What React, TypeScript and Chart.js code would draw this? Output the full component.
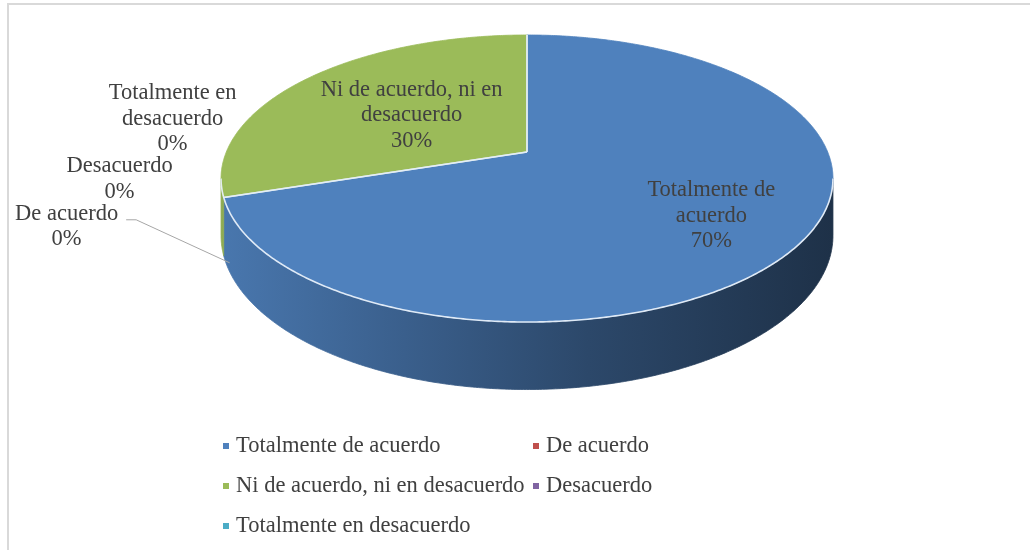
import React, { useEffect, useRef } from "react";
import { Chart, registerables } from "chart.js";

Chart.register(...registerables);

// ---------- data ----------
const categories = [
  "Totalmente de acuerdo",
  "De acuerdo",
  "Ni de acuerdo, ni en desacuerdo",
  "Desacuerdo",
  "Totalmente en desacuerdo",
];
const values = [70, 0, 30, 0, 0];
const colors = ["#4F81BD", "#C0504D", "#9BBB59", "#8064A2", "#4BACC6"];

// ---------- style ----------
const FONT_FAMILY = '"Liberation Serif", "Times New Roman", serif';
const FONT_SIZE = 22.5;
const TEXT_COLOR = "#404040";
const LINE_H = 25.5;
const WRAP_W = 192;
const BASE_OFF = 8;

// perspective view of the pie (screen px)
const VIEW = { rx: 300.7, tilt: 0.461, persp: -0.1847, depth: 0.183 };

const LEGEND = { x: 223, y: 452, colW: 310, rowH: 40, box: 6, gap: 13, cols: 2 };

type Pt = { x: number; y: number };

function project(cx: number, cy: number, theta: number, rho: number, h: number): Pt {
  const u = rho * Math.cos(theta);
  const v = rho * Math.sin(theta);
  const w = 1 + VIEW.persp * v;
  const A = VIEW.rx;
  return { x: cx + (A * u) / w, y: cy + (A * VIEW.tilt * v + A * VIEW.depth * h) / w };
}

function rimPoints(cx: number, cy: number, a: number, b: number, rho: number, h: number): Pt[] {
  const n = Math.max(2, Math.ceil(Math.abs(b - a) / (Math.PI / 360)) + 1);
  const pts: Pt[] = [];
  for (let i = 0; i < n; i++) {
    const t = a + ((b - a) * i) / (n - 1);
    pts.push(project(cx, cy, t, rho, h));
  }
  return pts;
}

function shade(hex: string, f: number): string {
  const n = parseInt(hex.slice(1), 16);
  const r = Math.min(255, Math.round(((n >> 16) & 255) * f));
  const g = Math.min(255, Math.round(((n >> 8) & 255) * f));
  const b = Math.min(255, Math.round((n & 255) * f));
  return `rgb(${r},${g},${b})`;
}

function wrapText(ctx: CanvasRenderingContext2D, text: string, maxW: number): string[] {
  const words = text.split(" ");
  const lines: string[] = [];
  let cur = "";
  for (const w of words) {
    const test = cur ? cur + " " + w : w;
    if (cur && ctx.measureText(test).width > maxW) {
      lines.push(cur);
      cur = w;
    } else cur = test;
  }
  if (cur) lines.push(cur);
  return lines;
}

function pathOf(ctx: CanvasRenderingContext2D, pts: Pt[], start = true) {
  pts.forEach((p, k) => {
    if (k === 0 && start) ctx.moveTo(p.x, p.y);
    else ctx.lineTo(p.x, p.y);
  });
}

const pie3dPlugin = {
  id: "pie3d",
  beforeDatasetsDraw(chart: any) {
    const ctx: CanvasRenderingContext2D = chart.ctx;
    const meta = chart.getDatasetMeta(0);
    const arcs = meta.data as any[];
    if (!arcs.length) return false;
    const cx = arcs[0].x;
    const cy = arcs[0].y;
    const ds = chart.data.datasets[0];
    const data = ds.data as number[];
    const bgs = ds.backgroundColor as string[];
    const labels = chart.data.labels as string[];
    const total = data.reduce((s, v) => s + v, 0);
    const s1 = Math.asin(-VIEW.persp);
    const s2 = Math.PI - s1;
    const xl = project(cx, cy, s2, 1, 0).x;
    const xr = project(cx, cy, s1, 1, 0).x;

    ctx.save();
    // ---- side walls ----
    arcs.forEach((arc, i) => {
      if (arc.endAngle - arc.startAngle <= 0) return;
      for (const off of [-2 * Math.PI, 0, 2 * Math.PI]) {
        const a = Math.max(arc.startAngle + off, s1);
        const b = Math.min(arc.endAngle + off, s2);
        if (b <= a) continue;
        const top = rimPoints(cx, cy, a, b, 1, 0);
        const bot = rimPoints(cx, cy, b, a, 1, 1);
        const g = ctx.createLinearGradient(xl, 0, xr, 0);
        g.addColorStop(0, shade(bgs[i], 0.92));
        g.addColorStop(0.3, shade(bgs[i], 0.74));
        g.addColorStop(0.6, shade(bgs[i], 0.56));
        g.addColorStop(1, shade(bgs[i], 0.38));
        ctx.beginPath();
        pathOf(ctx, top);
        pathOf(ctx, bot, false);
        ctx.closePath();
        ctx.fillStyle = g;
        ctx.fill();
        ctx.strokeStyle = g;
        ctx.lineWidth = 0.8;
        ctx.stroke();
      }
    });

    // ---- top faces ----
    const c0 = project(cx, cy, 0, 0, 0);
    arcs.forEach((arc, i) => {
      if (arc.endAngle - arc.startAngle <= 0) return;
      const pts = rimPoints(cx, cy, arc.startAngle, arc.endAngle, 1, 0);
      ctx.beginPath();
      ctx.moveTo(c0.x, c0.y);
      pathOf(ctx, pts, false);
      ctx.closePath();
      ctx.fillStyle = bgs[i];
      ctx.fill();
      ctx.strokeStyle = bgs[i];
      ctx.lineWidth = 0.8;
      ctx.stroke();
    });

    // ---- front rim highlight ----
    ctx.beginPath();
    pathOf(ctx, rimPoints(cx, cy, s1, s2, 1, 0));
    ctx.strokeStyle = "rgba(232,240,250,0.95)";
    ctx.lineWidth = 1.6;
    ctx.stroke();

    // ---- radial edges ----
    ctx.strokeStyle = "rgba(228,238,248,0.9)";
    ctx.lineWidth = 1.5;
    arcs.forEach((arc) => {
      if (arc.endAngle - arc.startAngle <= 0) return;
      [arc.startAngle, arc.endAngle].forEach((t) => {
        const p = project(cx, cy, t, 1, 0);
        ctx.beginPath();
        ctx.moveTo(c0.x, c0.y);
        ctx.lineTo(p.x, p.y);
        ctx.stroke();
      });
    });

    // ---- data labels ----
    ctx.font = `${FONT_SIZE}px ${FONT_FAMILY}`;
    ctx.fillStyle = TEXT_COLOR;
    ctx.textAlign = "center";
    ctx.textBaseline = "alphabetic";
    const pct = (v: number) => Math.round((v / total) * 100) + "%";

    arcs.forEach((arc, i) => {
      if (data[i] <= 0) return;
      const mid = (arc.startAngle + arc.endAngle) / 2;
      const f = data[i] / total > 0.5 ? 0.7 : 0.5;
      const p = project(cx, cy, mid, f, 0);
      const lines = [...wrapText(ctx, labels[i], WRAP_W), pct(data[i])];
      const n = lines.length;
      lines.forEach((ln, k) => ctx.fillText(ln, p.x, p.y + BASE_OFF + (k - (n - 1) / 2) * LINE_H));
    });

    // zero slices: stacked outside labels with a leader on the first
    const zeroIdx = data.map((v, i) => (v === 0 ? i : -1)).filter((i) => i >= 0);
    if (zeroIdx.length) {
      const end = project(cx, cy, arcs[zeroIdx[0]].startAngle - 0.1, 1, 0.85);
      let centerX = end.x - 163;
      let firstBase = end.y - 43;
      zeroIdx.forEach((idx, k) => {
        const lines = [...wrapText(ctx, labels[idx], WRAP_W), pct(data[idx])];
        if (k > 0) {
          const lastBase = firstBase - 22;
          firstBase = lastBase - (lines.length - 1) * LINE_H;
          centerX += 53;
        }
        ctx.fillStyle = TEXT_COLOR;
        lines.forEach((ln, j) => ctx.fillText(ln, centerX, firstBase + j * LINE_H));
        if (k === 0) {
          const sx = centerX + ctx.measureText(lines[0]).width / 2 + 8;
          ctx.beginPath();
          ctx.moveTo(sx, firstBase);
          ctx.lineTo(sx + 10, firstBase);
          ctx.lineTo(end.x, end.y);
          ctx.strokeStyle = "#A6A6A6";
          ctx.lineWidth = 1;
          ctx.stroke();
        }
      });
    }
    ctx.restore();
    return false;
  },
  afterDraw(chart: any) {
    const ctx: CanvasRenderingContext2D = chart.ctx;
    ctx.save();
    // legend
    ctx.font = `${FONT_SIZE}px ${FONT_FAMILY}`;
    ctx.textAlign = "left";
    ctx.textBaseline = "alphabetic";
    const labels = chart.data.labels as string[];
    const bgs = chart.data.datasets[0].backgroundColor as string[];
    labels.forEach((lab, i) => {
      const col = i % LEGEND.cols;
      const row = Math.floor(i / LEGEND.cols);
      const x = LEGEND.x + col * LEGEND.colW;
      const y = LEGEND.y + row * LEGEND.rowH;
      ctx.fillStyle = bgs[i];
      ctx.fillRect(x, y - 9, LEGEND.box, LEGEND.box);
      ctx.fillStyle = TEXT_COLOR;
      ctx.fillText(lab, x + LEGEND.gap, y);
    });
    // chart frame
    ctx.strokeStyle = "#D9D9D9";
    ctx.lineWidth = 2;
    ctx.strokeRect(8, 4, chart.width, chart.height);
    ctx.restore();
  },
};

export default function App() {
  const ref = useRef<HTMLCanvasElement | null>(null);
  useEffect(() => {
    if (!ref.current) return;
    const chart = new Chart(ref.current, {
      type: "pie",
      data: {
        labels: categories,
        datasets: [{ data: values, backgroundColor: colors, borderWidth: 0 }],
      },
      options: {
        animation: false,
        responsive: false,
        maintainAspectRatio: false,
        events: [],
        layout: { padding: { left: 24, right: 0, top: 0, bottom: 246 } },
        plugins: { legend: { display: false }, tooltip: { enabled: false } },
      },
      plugins: [pie3dPlugin as any],
    });
    return () => chart.destroy();
  }, []);
  return (
    <div style={{ position: "absolute", left: 0, top: 0, width: 1030, height: 550, background: "#fff" }}>
      <canvas ref={ref} width={1030} height={550} style={{ display: "block" }} />
    </div>
  );
}
